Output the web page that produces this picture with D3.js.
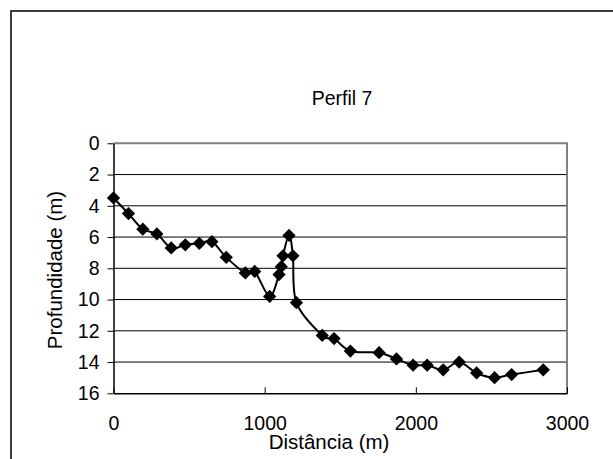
<!DOCTYPE html>
<html><head><meta charset="utf-8">
<script src="https://cdn.jsdelivr.net/npm/d3@7"></script>
<style>html,body{margin:0;padding:0;background:#fff;}svg{display:block;}</style>
</head><body>
<svg id="c" width="613" height="459"></svg>
<script>
const distances = [0, 99, 194, 287, 382, 475, 568, 651, 746, 872, 934, 1033, 1095, 1110, 1121, 1161, 1187, 1210, 1381, 1459, 1567, 1757, 1872, 1982, 2075, 2181, 2287, 2402, 2521, 2634, 2843];
const depths = [3.5, 4.5, 5.5, 5.8, 6.7, 6.5, 6.4, 6.3, 7.3, 8.3, 8.2, 9.8, 8.4, 7.9, 7.2, 5.9, 7.2, 10.2, 12.3, 12.5, 13.3, 13.4, 13.8, 14.2, 14.2, 14.5, 14.0, 14.7, 15.0, 14.8, 14.5];
const xTicks = [0, 1000, 2000, 3000];
const yTicks = [0, 2, 4, 6, 8, 10, 12, 14, 16];
const title = "Perfil 7";
const xTitle = "Distância (m)";
const yTitle = "Profundidade (m)";

const font = "'Liberation Sans', Arial, sans-serif";
const svg = d3.select("#c");
const L = 113.5, R = 567, T = 143.3, B = 393.3;
const x = d3.scaleLinear().domain([0, 3000]).range([L, R]);
const y = d3.scaleLinear().domain([0, 16]).range([T, B]);

// outer chart border (extends beyond right/bottom)
svg.append("rect").attr("x", 11).attr("y", 11).attr("width", 640).attr("height", 500)
  .attr("fill", "none").attr("stroke", "#000").attr("stroke-width", 1.5);

// gridlines
svg.append("g").selectAll("line").data(yTicks.filter(v => v > 0 && v < 16)).join("line")
  .attr("x1", L).attr("x2", R).attr("y1", d => y(d)).attr("y2", d => y(d))
  .attr("stroke", "#000").attr("stroke-width", 1);

// plot border top/right gray
svg.append("path").attr("d", `M${L},${T}H${R}V${B}`).attr("fill", "none")
  .attr("stroke", "#808080").attr("stroke-width", 2);

// y axis
const yAxis = d3.axisLeft(y).tickValues(yTicks).tickFormat(d3.format("d")).tickSize(6).tickPadding(8).tickSizeOuter(0);
const gy = svg.append("g").attr("transform", `translate(${L},0)`).call(yAxis);
gy.select(".domain").attr("stroke", "#000").attr("stroke-width", 1.5);
gy.selectAll(".tick line").attr("stroke", "#000").attr("stroke-width", 1);
gy.selectAll(".tick text").attr("font-family", font).attr("font-size", 19.5).attr("fill", "#000");

// x axis (ticks inward)
const xAxis = d3.axisBottom(x).tickValues(xTicks).tickFormat(d3.format("d")).tickSize(-6).tickPadding(23).tickSizeOuter(0);
const gx = svg.append("g").attr("transform", `translate(0,${B})`).call(xAxis);
gx.select(".domain").attr("stroke", "#000").attr("stroke-width", 1.5);
gx.selectAll(".tick line").attr("stroke", "#000").attr("stroke-width", 1);
gx.selectAll(".tick text").attr("font-family", font).attr("font-size", 19.5).attr("fill", "#000");

// line
const pts = distances.map((d, i) => [d, depths[i]]);
const line = d3.line().x(d => x(d[0])).y(d => y(d[1])).curve(d3.curveCatmullRom.alpha(0));
svg.append("path").attr("d", line(pts)).attr("fill", "none").attr("stroke", "#000").attr("stroke-width", 2);

// markers
const sym = d3.symbol().type(d3.symbolSquare).size(88);
svg.append("g").selectAll("path").data(pts).join("path")
  .attr("d", sym).attr("transform", d => `translate(${x(d[0])},${y(d[1])}) rotate(45)`)
  .attr("fill", "#000");

// titles
svg.append("text").attr("x", 342).attr("y", 105).attr("text-anchor", "middle")
  .attr("font-family", font).attr("font-size", 19.5).text(title);
svg.append("text").attr("x", 329).attr("y", 449).attr("text-anchor", "middle")
  .attr("font-family", font).attr("font-size", 20.5).text(xTitle);
svg.append("text").attr("transform", "translate(62,270) rotate(-90)").attr("text-anchor", "middle")
  .attr("font-family", font).attr("font-size", 20.5).text(yTitle);
</script>
</body></html>
